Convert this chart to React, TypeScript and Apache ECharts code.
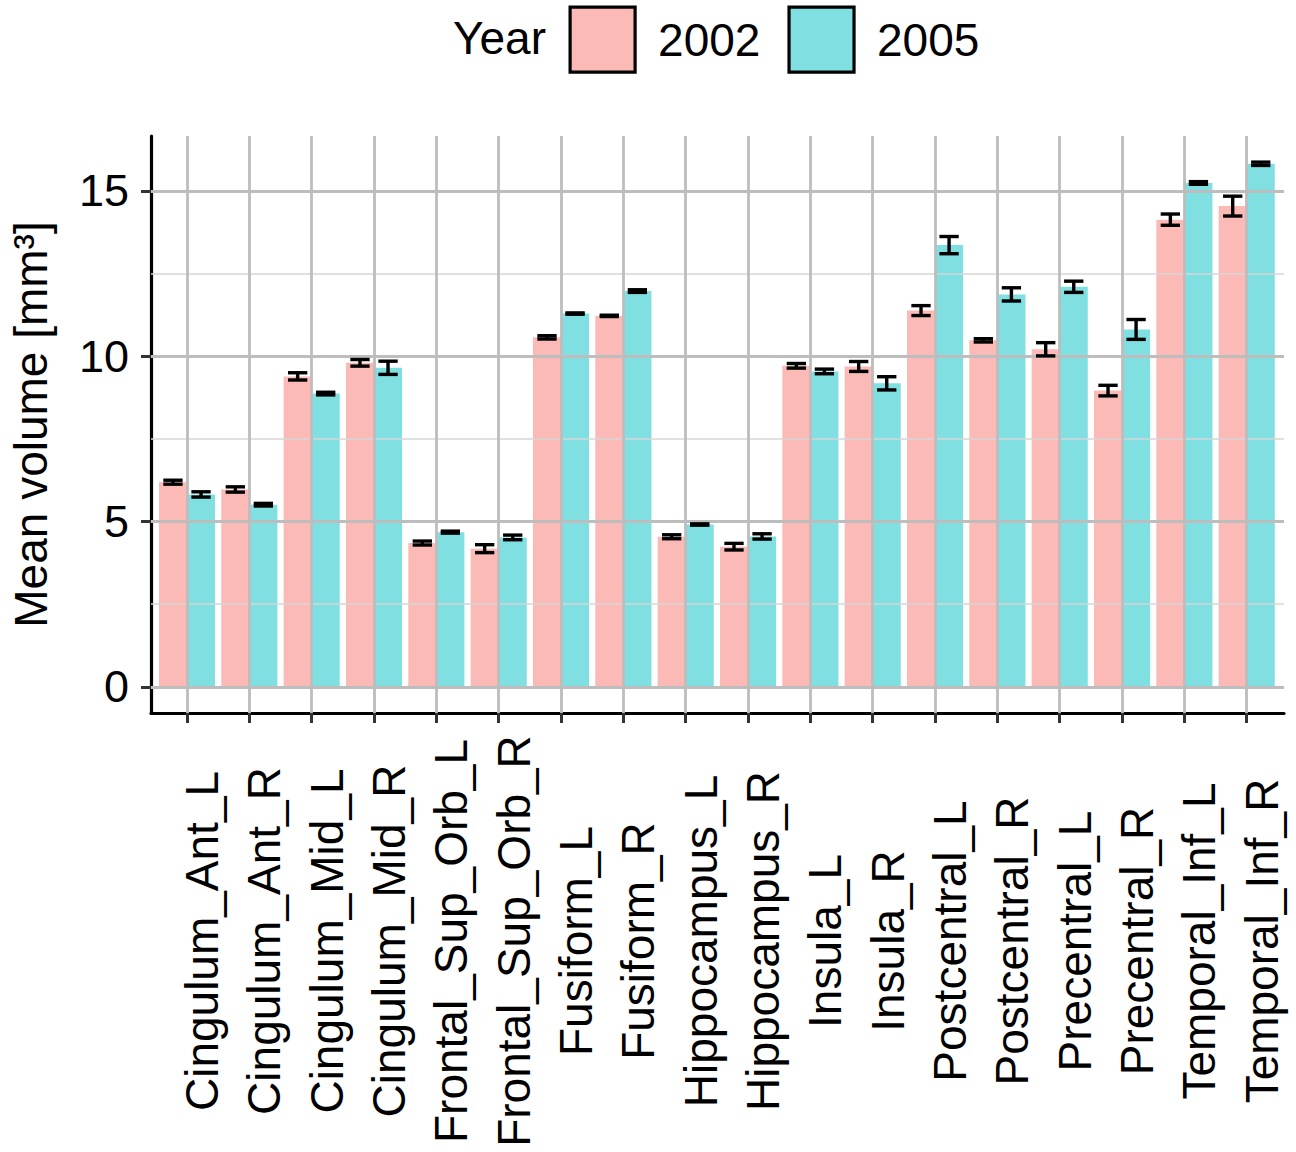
import React, { useEffect, useRef } from "react";
import * as echarts from "echarts";

const categories = [
  "Cingulum_Ant_L", "Cingulum_Ant_R", "Cingulum_Mid_L", "Cingulum_Mid_R",
  "Frontal_Sup_Orb_L", "Frontal_Sup_Orb_R", "Fusiform_L", "Fusiform_R",
  "Hippocampus_L", "Hippocampus_R", "Insula_L", "Insula_R",
  "Postcentral_L", "Postcentral_R", "Precentral_L", "Precentral_R",
  "Temporal_Inf_L", "Temporal_Inf_R",
];
const years = ["2002", "2005"];
const mean2002 = [6.19, 5.97, 9.39, 9.80, 4.35, 4.18, 10.57, 11.22, 4.54, 4.24, 9.71, 9.69, 11.38, 10.48, 10.21, 8.96, 14.13, 14.54];
const err2002 = [0.06, 0.08, 0.11, 0.10, 0.06, 0.12, 0.05, 0.02, 0.06, 0.10, 0.07, 0.15, 0.15, 0.05, 0.20, 0.16, 0.17, 0.30];
const mean2005 = [5.82, 5.51, 8.87, 9.65, 4.68, 4.52, 11.29, 11.97, 4.91, 4.55, 9.54, 9.18, 13.36, 11.87, 12.10, 10.81, 15.24, 15.82];
const err2005 = [0.08, 0.04, 0.04, 0.20, 0.03, 0.07, 0.02, 0.04, 0.02, 0.08, 0.07, 0.20, 0.26, 0.20, 0.17, 0.30, 0.04, 0.05];
const yTicks = [0, 5, 10, 15];
const yMinor = [2.5, 7.5, 12.5];
const yMin = -0.79;
const yMax = 16.66;

const FONT = "'Liberation Sans', Arial, Helvetica, sans-serif";
const PINK = "rgba(248,118,109,0.5)";
const CYAN = "rgba(0,191,196,0.5)";

function errorSeries(name: string, means: number[], errs: number[], offset: number) {
  return {
    type: "custom",
    name,
    xAxisIndex: 1,
    yAxisIndex: 1,
    z: 5,
    silent: true,
    encode: { x: 0, y: 1 },
    data: means.map((m, i) => [i, m, errs[i]]),
    renderItem: (params: any, api: any) => {
      const cat = api.value(0);
      const m = api.value(1);
      const e = api.value(2);
      const bw = api.size([1, 0])[0];
      const c = api.coord([cat, m]);
      const x = c[0] + offset * bw;
      const top = api.coord([cat, m + e])[1];
      const bot = api.coord([cat, m - e])[1];
      const hw = bw * 0.155;
      const st = { stroke: "#000", lineWidth: 3.4 };
      return {
        type: "group",
        children: [
          { type: "line", shape: { x1: x, y1: top, x2: x, y2: bot }, style: st },
          { type: "line", shape: { x1: x - hw, y1: top, x2: x + hw, y2: top }, style: st },
          { type: "line", shape: { x1: x - hw, y1: bot, x2: x + hw, y2: bot }, style: st },
        ],
      };
    },
  };
}

export default function App() {
  const ref = useRef<HTMLDivElement>(null);
  useEffect(() => {
    if (!ref.current) return;
    const chart = echarts.init(ref.current, null, { renderer: "svg" });
    const axisLineStyle = { color: "#000", width: 3.2 };
    const option: any = {
      animation: false,
      textStyle: { fontFamily: FONT },
      title: {
        text: "Year",
        left: 453,
        top: 15,
        padding: 0,
        textStyle: { fontFamily: FONT, fontSize: 46, fontWeight: "normal", color: "#000", lineHeight: 46 },
      },
      legend: {
        data: years,
        left: 568.5,
        top: 5.5,
        padding: 0,
        itemWidth: 65,
        itemHeight: 65,
        itemGap: 27,
        icon: "rect",
        itemStyle: { borderColor: "#000", borderWidth: 3.2 },
        textStyle: { fontFamily: FONT, fontSize: 46, color: "#000", padding: [0, 0, 0, 18] },
      },
      grid: [
        { left: 150, right: 12, top: 136, bottom: 439 },
        { left: 155.83, right: 18.1, top: 136, bottom: 439 },
      ],
      xAxis: [
        {
          type: "value",
          gridIndex: 0,
          min: 0,
          max: 1,
          axisLine: { show: true, onZero: false, lineStyle: axisLineStyle },
          axisTick: { show: false },
          axisLabel: { show: false },
          splitLine: { show: false },
        },
        {
          type: "category",
          gridIndex: 1,
          data: categories,
          axisLine: { show: false, onZero: false },
          axisTick: { show: true, alignWithLabel: true, length: 10, lineStyle: { color: "#333", width: 3 } },
          axisLabel: {
            interval: 0,
            rotate: 90,
            align: "center",
            verticalAlign: "top",
            lineHeight: 30,
            margin: 228,
            fontSize: 46,
            color: "#000",
            fontFamily: FONT,
          },
          splitLine: { show: false },
        },
      ],
      yAxis: [
        {
          type: "value",
          gridIndex: 0,
          min: yMin,
          max: yMax,
          axisLine: { show: true, onZero: false, lineStyle: axisLineStyle },
          axisTick: { show: true, length: 10, customValues: yTicks, lineStyle: { color: "#333", width: 3 } },
          axisLabel: { customValues: yTicks, margin: 22, fontSize: 45, color: "#000", fontFamily: FONT },
          splitLine: { show: false },
          name: "Mean volume [mm³]",
          nameLocation: "middle",
          nameRotate: 90,
          nameGap: 97,
          nameTextStyle: { fontSize: 46, color: "#000", fontFamily: FONT },
        },
        { type: "value", gridIndex: 1, min: yMin, max: yMax, show: false },
      ],
      series: [
        {
          type: "line",
          name: "hgrid",
          xAxisIndex: 0,
          yAxisIndex: 0,
          data: [[0.5, 0]],
          showSymbol: false,
          symbol: "none",
          lineStyle: { opacity: 0 },
          silent: true,
          z: 0,
          markLine: {
            silent: true,
            symbol: "none",
            label: { show: false },
            data: [
              ...yMinor.map((v) => ({ yAxis: v, lineStyle: { color: "#d6d6d6", width: 1.6, type: "solid" } })),
              ...yTicks.map((v) => ({ yAxis: v, lineStyle: { color: "#bdbdbd", width: 2.8, type: "solid" } })),
            ],
          },
        },
        {
          type: "line",
          name: "vgrid",
          xAxisIndex: 1,
          yAxisIndex: 1,
          data: [[0, 0]],
          showSymbol: false,
          symbol: "none",
          lineStyle: { opacity: 0 },
          silent: true,
          z: 0,
          markLine: {
            silent: true,
            symbol: "none",
            label: { show: false },
            data: categories.map((c) => ({ xAxis: c, lineStyle: { color: "#bdbdbd", width: 2.8, type: "solid" } })),
          },
        },
        {
          type: "bar",
          name: "2002",
          xAxisIndex: 1,
          yAxisIndex: 1,
          data: mean2002,
          barWidth: "45%",
          barGap: "0%",
          itemStyle: { color: PINK },
          z: 2,
        },
        {
          type: "bar",
          name: "2005",
          xAxisIndex: 1,
          yAxisIndex: 1,
          data: mean2005,
          barWidth: "45%",
          barGap: "0%",
          itemStyle: { color: CYAN },
          z: 2,
        },
        errorSeries("err2002", mean2002, err2002, -0.225),
        errorSeries("err2005", mean2005, err2005, 0.225),
      ],
    };
    chart.setOption(option);
    return () => chart.dispose();
  }, []);
  return <div ref={ref} style={{ position: "absolute", left: 0, top: 0, width: 1296, height: 1152 }} />;
}
